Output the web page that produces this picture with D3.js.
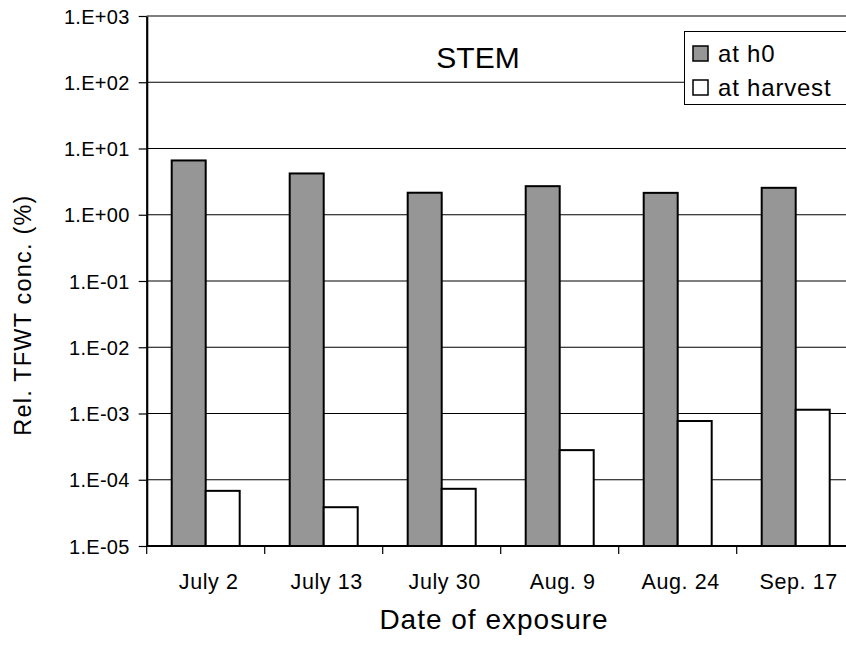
<!DOCTYPE html>
<html>
<head>
<meta charset="utf-8">
<script src="https://cdn.jsdelivr.net/npm/d3@7"></script>
<style>
  html, body { margin: 0; padding: 0; background: #fff; }
  svg { display: block; font-family: "Liberation Sans", Arial, sans-serif; }
</style>
</head>
<body>
<svg id="chart" width="846" height="645"></svg>
<script>
// Exposure dates and relative TFWT concentrations (%) in stem
const categories = ["July 2", "July 13", "July 30", "Aug. 9", "Aug. 24", "Sep. 17"];
const seriesNames = ["at h0", "at harvest"];
const atH0 = [6.6, 4.2, 2.15, 2.7, 2.14, 2.55];
const atHarvest = [6.8e-5, 3.85e-5, 7.3e-5, 2.8e-4, 7.7e-4, 1.14e-3];
const yTicks = [1e-5, 1e-4, 1e-3, 1e-2, 1e-1, 1e0, 1e1, 1e2, 1e3];
const seriesColors = ["#969696", "#ffffff"];

const svg = d3.select("#chart");
const plotLeft = 146.7, plotTop = 16, plotBottom = 546, step = 118;
const plotRight = plotLeft + step * categories.length;

const y = d3.scaleLog().domain([1e-5, 1e3]).range([plotBottom, plotTop]);
const x0 = d3.scaleBand().domain(categories).range([plotLeft, plotRight])
  .paddingInner(50 / 118).paddingOuter(25 / 118);
const x1 = d3.scaleBand().domain(seriesNames).range([0, x0.bandwidth()]);

const fmt = v => {
  const e = Math.round(Math.log10(v));
  const s = e < 0 ? "-" : "+";
  return "1.E" + s + String(Math.abs(e)).padStart(2, "0");
};

// Horizontal gridlines
svg.append("g").selectAll("line").data(yTicks).join("line")
  .attr("x1", plotLeft).attr("x2", plotRight)
  .attr("y1", d => y(d)).attr("y2", d => y(d))
  .attr("stroke", "#000").attr("stroke-width", 1.2);

// Bars
const rows = categories.map((c, i) => ({ c, vals: [atH0[i], atHarvest[i]] }));
const groups = svg.append("g").selectAll("g").data(rows).join("g")
  .attr("transform", d => `translate(${x0(d.c)},0)`);
groups.selectAll("rect").data(d => d.vals.map((v, k) => ({ v, k })))
  .join("rect")
  .attr("x", d => x1(seriesNames[d.k]))
  .attr("width", x1.bandwidth())
  .attr("y", d => y(d.v))
  .attr("height", d => plotBottom - y(d.v))
  .attr("fill", d => seriesColors[d.k])
  .attr("stroke", "#000").attr("stroke-width", 2);

// Y axis
const yAxis = d3.axisLeft(y).tickValues(yTicks).tickFormat(fmt).tickSize(8).tickSizeOuter(0);
const gy = svg.append("g").attr("transform", `translate(${plotLeft},0)`).call(yAxis);
gy.select(".domain").attr("stroke", "#000").attr("stroke-width", 2.2);
gy.selectAll(".tick line").attr("stroke", "#000").attr("stroke-width", 1.2);
gy.selectAll(".tick text").attr("x", -17).attr("dy", "0.36em")
  .style("font-size", "20px").style("letter-spacing", "0.3px").attr("fill", "#000")
  .style("font-family", "'Liberation Sans', Arial, sans-serif");

// X axis with ticks at category boundaries
svg.append("line").attr("x1", plotLeft).attr("x2", plotRight)
  .attr("y1", plotBottom).attr("y2", plotBottom).attr("stroke", "#000").attr("stroke-width", 2.2);
svg.append("g").selectAll("line").data(d3.range(categories.length + 1)).join("line")
  .attr("x1", i => plotLeft + i * x0.step()).attr("x2", i => plotLeft + i * x0.step())
  .attr("y1", plotBottom).attr("y2", plotBottom + 8)
  .attr("stroke", "#000").attr("stroke-width", 1.2);
svg.append("g").selectAll("text").data(categories).join("text")
  .attr("x", d => x0(d) + x0.bandwidth() / 2 + 3)
  .attr("y", 589)
  .attr("text-anchor", "middle")
  .style("font-size", "21.5px").style("letter-spacing", "0.6px")
  .text(d => d);

// Axis titles
svg.append("text").attr("x", 494).attr("y", 629)
  .attr("text-anchor", "middle").style("font-size", "28px").style("letter-spacing", "1px")
  .text("Date of exposure");
svg.append("text").attr("transform", "translate(31,315) rotate(-90)")
  .attr("text-anchor", "middle").style("font-size", "23.5px").style("letter-spacing", "1.2px")
  .text("Rel. TFWT conc. (%)");

// Panel title
svg.append("text").attr("x", 478).attr("y", 68)
  .attr("text-anchor", "middle").style("font-size", "30px")
  .text("STEM");

// Legend
const lg = svg.append("g");
lg.append("rect").attr("x", 684.5).attr("y", 31.5).attr("width", 180).attr("height", 73)
  .attr("fill", "#fff").attr("stroke", "#000").attr("stroke-width", 1);
seriesNames.forEach((name, k) => {
  const yy = 46 + k * 34;
  lg.append("rect").attr("x", 693).attr("y", yy).attr("width", 15).attr("height", 15)
    .attr("fill", seriesColors[k]).attr("stroke", "#000").attr("stroke-width", 1.5);
  lg.append("text").attr("x", 718).attr("y", yy + 16)
    .style("font-size", "24px").style("letter-spacing", "0.8px").text(name);
});
</script>
</body>
</html>
